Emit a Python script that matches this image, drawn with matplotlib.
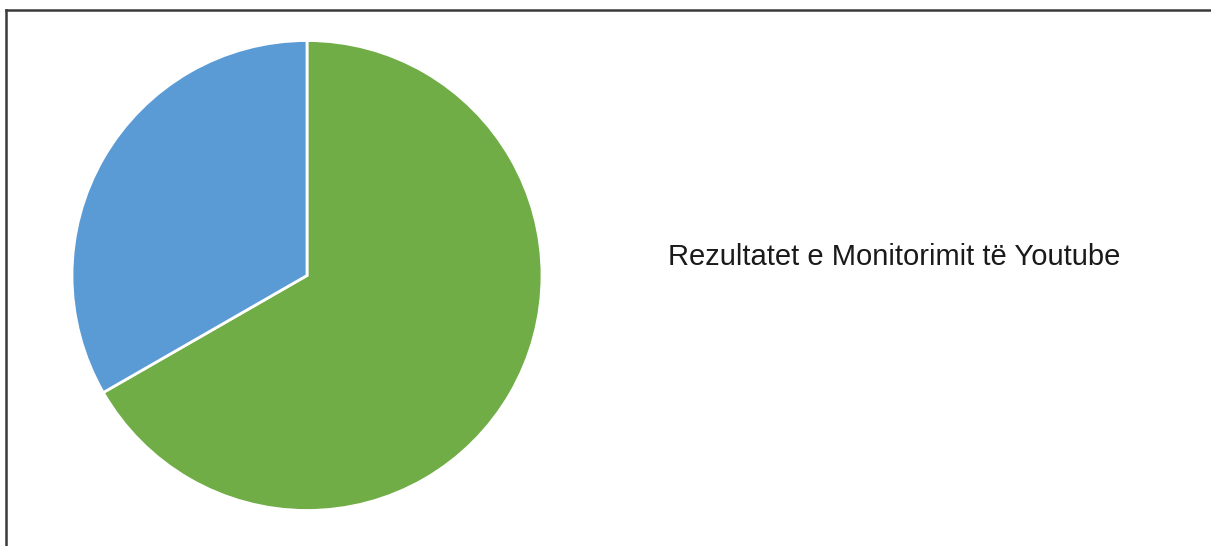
import matplotlib
matplotlib.use("Agg")
import matplotlib.pyplot as plt
from matplotlib.lines import Line2D

labels = ["Green", "Blue"]
values = [66.7, 33.3]
colors = ["#70AD47", "#5B9BD5"]
title_text = "Rezultatet e Monitorimit të Youtube"

W, H, DPI = 1211, 546, 100
fig = plt.figure(figsize=(W / DPI, H / DPI), dpi=DPI)

# pie axes: center (307, 275.5), radius 235
cx, cy, r = 307, 275.5, 235
ax = fig.add_axes([(cx - r) / W, 1 - (cy + r) / H, 2 * r / W, 2 * r / H])
ax.pie(values, colors=colors, startangle=90, counterclock=False,
       wedgeprops=dict(edgecolor="white", linewidth=2), radius=1)
ax.set_xlim(-1, 1)
ax.set_ylim(-1, 1)
ax.set_aspect("equal")
ax.axis("off")

# frame lines (top and left)
fig.add_artist(Line2D([5.5 / W, 1], [1 - 9.5 / H, 1 - 9.5 / H], color="#3a3a3a", lw=1.8,
                      transform=fig.transFigure))
fig.add_artist(Line2D([5.5 / W, 5.5 / W], [0, 1 - 9.5 / H], color="#3a3a3a", lw=1.8,
                      transform=fig.transFigure))

fig.text(668 / W, 1 - 265 / H, title_text, fontsize=21, family="Liberation Sans",
         color="#1a1a1a", ha="left", va="baseline")

fig.savefig("out.png", dpi=DPI, facecolor="white")
